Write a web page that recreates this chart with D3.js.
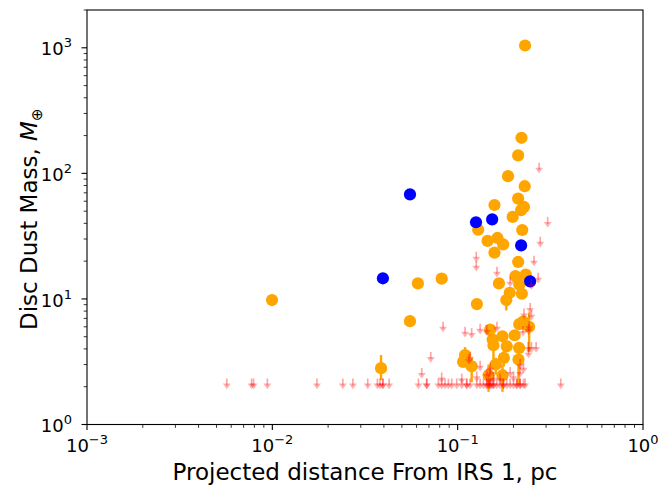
<!DOCTYPE html>
<html>
<head>
<meta charset="utf-8">
<script src="https://cdn.jsdelivr.net/npm/d3@7"></script>
<style>
  html, body { margin: 0; padding: 0; background: #fff; }
  svg { display: block; font-family: "DejaVu Sans", sans-serif; }
</style>
</head>
<body>
<svg id="chart" width="662" height="485"></svg>
<script>
// ---------- data ----------
const xTickLabels = [["10", "\u22123"], ["10", "\u22122"], ["10", "\u22121"], ["10", "0"]];
const xTickValues = [1e-3, 1e-2, 1e-1, 1];
const yTickLabels = [["10", "0"], ["10", "1"], ["10", "2"], ["10", "3"]];
const yTickValues = [1, 10, 100, 1000];

// detections (orange) with optional error bar bounds
const orangeX = [0.231, 0.221, 0.212, 0.187, 0.230, 0.158, 0.212, 0.228, 0.220, 0.198,
                 0.129, 0.223, 0.145, 0.164, 0.176, 0.158, 0.212, 0.205, 0.233, 0.167,
                 0.215, 0.191, 0.222, 0.183, 0.127, 0.082, 0.061, 0.00996, 0.0553, 0.0386,
                 0.215, 0.226, 0.243, 0.1497, 0.1545, 0.156, 0.1745, 0.184, 0.203, 0.2145,
                 0.213, 0.1605, 0.1775, 0.1468, 0.1745, 0.1096, 0.107, 0.119];
const orangeY = [1043, 192, 139, 95, 79, 56, 63, 54, 51, 45,
                 35.6, 35.4, 29, 30.6, 27.2, 23.4, 19.7, 15.2, 15.6, 13.3,
                 13.0, 11.2, 11.0, 9.8, 9.1, 14.5, 13.3, 9.8, 6.65, 2.81,
                 6.3, 6.6, 6.0, 5.7, 4.75, 4.28, 5.04, 4.2, 5.14, 4.07,
                 3.29, 3.01, 3.39, 2.47, 2.47, 3.57, 3.15, 2.91];
const orangeLo = [null, null, null, null, null, null, null, null, null, null,
                  null, null, null, null, null, null, null, null, null, null,
                  null, null, null, 8.1, null, null, null, null, null, 2.26,
                  null, null, 3.77, null, null, 3.3, null, null, null, null,
                  2.1, 2.5, 2.9, 1.82, 1.82, 2.86, null, 2.17];
const orangeHi = [null, null, null, null, null, null, null, null, null, null,
                  null, null, null, null, null, null, null, null, null, null,
                  null, null, null, 11.2, null, null, null, null, null, 3.57,
                  null, null, 7.8, null, null, 5.2, null, null, null, null,
                  3.7, 3.4, 3.9, 3.0, 3.0, 4.13, null, 3.4];

// blue detections
const blueX = [0.0395, 0.0553, 0.1256, 0.1535, 0.220, 0.246];
const blueY = [14.6, 68, 40.8, 43, 26.7, 13.8];

// upper limits (red arrows)
const limitX = [
  0.00568, 0.00773, 0.00792, 0.0094, 0.0174, 0.0240, 0.0272, 0.0327, 0.0369, 0.0381,
  0.0395, 0.0395, 0.0427, 0.0614, 0.0681, 0.0681, 0.0787, 0.0820, 0.0855, 0.0891,
  0.0929, 0.0989, 0.1052, 0.1119, 0.1119, 0.1167, 0.1268, 0.1322, 0.1378, 0.1436,
  0.1436, 0.1470, 0.1497, 0.1497, 0.1530, 0.1560, 0.1560, 0.1626, 0.1695, 0.1767,
  0.1767, 0.1841, 0.1919, 0.2000, 0.2085, 0.2085, 0.2173, 0.2173, 0.2265, 0.2312,
  0.360,
  0.0820, 0.1052, 0.1268, 0.1436, 0.1497, 0.1560, 0.1695, 0.2000, 0.2173, 0.2265,
  0.2173, 0.1497, 0.1919, 0.1470,
  0.064, 0.0716, 0.0834, 0.1096, 0.119, 0.1322, 0.1436, 0.163, 0.225, 0.228,
  0.246, 0.25, 0.24, 0.25, 0.265, 0.241, 0.117, 0.1322, 0.115, 0.243, 0.241,
  0.275, 0.306, 0.279, 0.258, 0.272, 0.126, 0.126, 0.163, 0.192, 0.25
];
const limitY = [
  2.1, 2.1, 2.1, 2.1, 2.1, 2.1, 2.1, 2.1, 2.1, 2.1,
  2.1, 2.1, 2.1, 2.1, 2.1, 2.1, 2.1, 2.1, 2.1, 2.1,
  2.1, 2.1, 2.1, 2.1, 2.1, 2.1, 2.1, 2.1, 2.1, 2.1,
  2.1, 2.1, 2.1, 2.1, 2.1, 2.1, 2.1, 2.1, 2.1, 2.1,
  2.1, 2.1, 2.1, 2.1, 2.1, 2.1, 2.1, 2.1, 2.1, 2.1,
  2.1,
  2.35, 2.3, 2.4, 2.5, 2.6, 2.35, 2.3, 2.4, 2.6, 2.8,
  3.0, 2.8, 2.6, 2.25,
  2.55, 3.42, 5.96, 5.43, 5.3, 5.74, 5.6, 5.96, 5.5, 7.6,
  8.4, 7.4, 4.1, 4.1, 4.1, 3.7, 3.44, 2.91, 3.3, 6.0, 5.7,
  110, 40.7, 28.3, 20, 14.6, 21.5, 18.2, 16.3, 13.6, 13
];

// ---------- layout ----------
const svg = d3.select("#chart");
const mLeft = 87, mRight = 643, mTop = 10, mBottom = 424.5;

const x = d3.scaleLog().domain([1e-3, 1]).range([mLeft, mRight]);
const y = d3.scaleLog().domain([1, 2000]).range([mBottom, mTop]);

const orange = "#ffa500", blue = "#0000ff", red = "#ff0000";

// ---------- marks ----------
const gPlot = svg.append("g");

// orange error bars
orangeX.forEach((d, i) => {
  if (orangeLo[i] != null) {
    gPlot.append("line")
      .attr("x1", x(d)).attr("x2", x(d))
      .attr("y1", y(orangeLo[i])).attr("y2", y(orangeHi[i]))
      .attr("stroke", orange).attr("stroke-width", 2.4);
  }
});
// orange points
gPlot.selectAll("circle.or").data(orangeX).enter().append("circle")
  .attr("class", "or")
  .attr("cx", d => x(d)).attr("cy", (d, i) => y(orangeY[i]))
  .attr("r", 6.1).attr("fill", orange);

// blue points
gPlot.selectAll("circle.bl").data(blueX).enter().append("circle")
  .attr("class", "bl")
  .attr("cx", d => x(d)).attr("cy", (d, i) => y(blueY[i]))
  .attr("r", 6.1).attr("fill", blue);

// upper-limit arrows
const arrows = gPlot.selectAll("g.ul").data(limitX).enter().append("g")
  .attr("class", "ul")
  .attr("transform", (d, i) => `translate(${x(d)},${y(limitY[i])})`);
arrows.append("line")
  .attr("x1", 0).attr("x2", 0).attr("y1", -5.5).attr("y2", 1.5)
  .attr("stroke", red).attr("stroke-width", 1.7).attr("stroke-opacity", 0.35);
arrows.append("path")
  .attr("d", "M-4,-0.5 L4,-0.5 L0,5.2 Z")
  .attr("fill", red).attr("fill-opacity", 0.3);

// ---------- axes ----------
const gAx = svg.append("g");
gAx.append("rect")
  .attr("x", mLeft).attr("y", mTop)
  .attr("width", mRight - mLeft).attr("height", mBottom - mTop)
  .attr("fill", "none").attr("stroke", "#000").attr("stroke-width", 1.1);

// minor ticks
const xMinor = [];
[1e-3, 1e-2, 1e-1].forEach(dec => { for (let k = 2; k <= 9; k++) xMinor.push(dec * k); });
const yMinor = [];
[1, 10, 100, 1000].forEach(dec => { for (let k = 2; k <= 9; k++) if (dec * k <= 2000) yMinor.push(dec * k); });

gAx.selectAll("line.xmin").data(xMinor).enter().append("line")
  .attr("x1", d => x(d)).attr("x2", d => x(d))
  .attr("y1", mBottom).attr("y2", mBottom + 3.3)
  .attr("stroke", "#000").attr("stroke-width", 0.8);
gAx.selectAll("line.ymin").data(yMinor).enter().append("line")
  .attr("y1", d => y(d)).attr("y2", d => y(d))
  .attr("x1", mLeft).attr("x2", mLeft - 3.3)
  .attr("stroke", "#000").attr("stroke-width", 0.8);

// major ticks
gAx.selectAll("line.xmaj").data(xTickValues).enter().append("line")
  .attr("x1", d => x(d)).attr("x2", d => x(d))
  .attr("y1", mBottom).attr("y2", mBottom + 5.5)
  .attr("stroke", "#000").attr("stroke-width", 1.1);
gAx.selectAll("line.ymaj").data(yTickValues).enter().append("line")
  .attr("y1", d => y(d)).attr("y2", d => y(d))
  .attr("x1", mLeft).attr("x2", mLeft - 5.5)
  .attr("stroke", "#000").attr("stroke-width", 1.1);

// tick labels
xTickValues.forEach((v, i) => {
  const t = gAx.append("text")
    .attr("x", x(v)).attr("y", mBottom + 27)
    .attr("text-anchor", "middle").attr("font-size", 18).attr("fill", "#000");
  t.append("tspan").text(xTickLabels[i][0]);
  t.append("tspan").attr("dy", -8).attr("font-size", 13).text(xTickLabels[i][1]);
});
yTickValues.forEach((v, i) => {
  const t = gAx.append("text")
    .attr("x", 72).attr("y", y(v) + 7.7)
    .attr("text-anchor", "end").attr("font-size", 18).attr("fill", "#000");
  t.append("tspan").text(yTickLabels[i][0]);
  t.append("tspan").attr("dy", -8).attr("font-size", 13).text(yTickLabels[i][1]);
});

// axis labels
svg.append("text")
  .attr("x", (mLeft + mRight) / 2).attr("y", 480)
  .attr("text-anchor", "middle").attr("font-size", 23).attr("fill", "#000")
  .text("Projected distance From IRS 1, pc");

const yl = svg.append("text")
  .attr("transform", `translate(37,${(mTop + mBottom) / 2 + 2}) rotate(-90)`)
  .attr("text-anchor", "middle").attr("font-size", 23).attr("fill", "#000");
yl.append("tspan").text("Disc Dust Mass, ");
yl.append("tspan").attr("font-style", "italic").text("M");
yl.append("tspan").attr("dy", 5).attr("font-size", 15).text("\u2295");
</script>
</body>
</html>
